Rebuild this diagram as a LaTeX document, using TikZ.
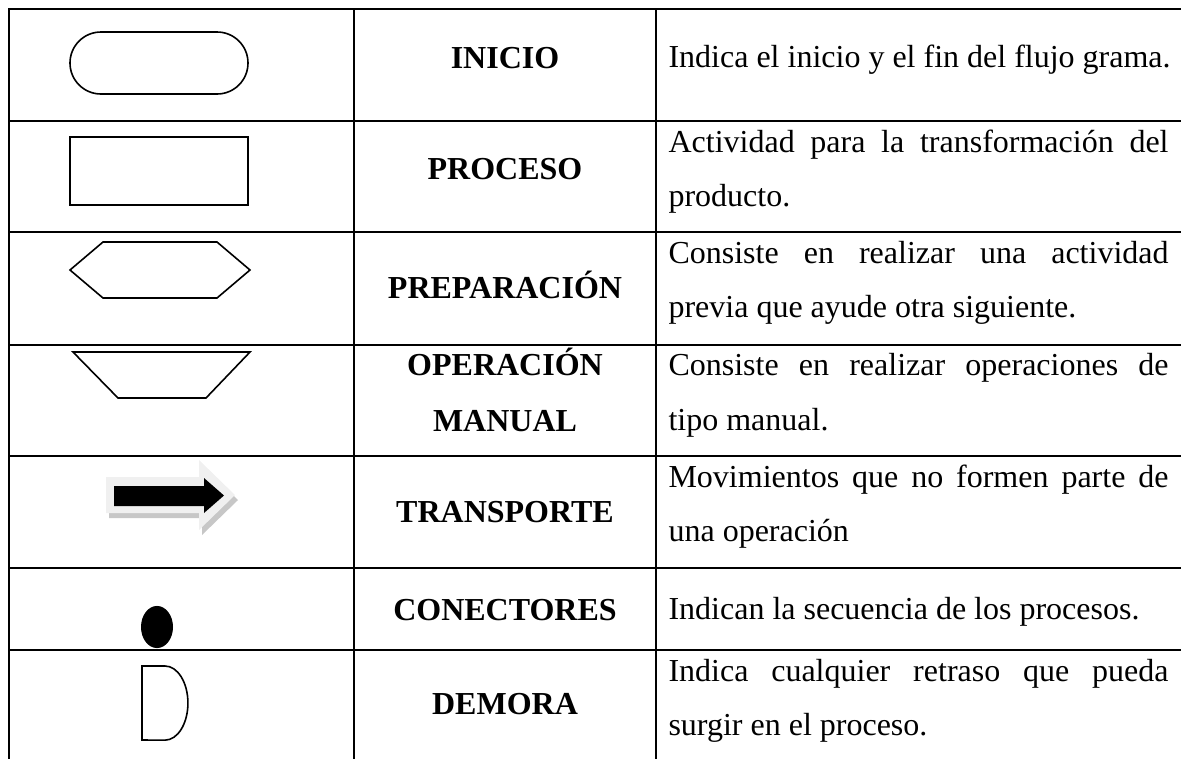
\documentclass[tikz,border=0pt]{standalone}
\usepackage{fontspec}
\setmainfont{Liberation Serif}
\newlength{\descw}
\setlength{\descw}{187.5pt}
\newcommand{\fullline}[1]{\makebox[\descw][s]{#1}}

\begin{document}
\begin{tikzpicture}[x=0.375pt,y=-0.375pt,
  font=\fontsize{12}{14}\selectfont,
  grid/.style={line width=0.75pt,line cap=rect},
  sym/.style={line width=0.6pt},
  lbl/.style={anchor=base,inner sep=0pt,font=\fontsize{12}{14}\selectfont\bfseries},
  desc/.style={anchor=base west,inner sep=0pt}]
\useasboundingbox (0,0) rectangle (1181,758);
% table
\foreach \y in {9,121,232,345,456,568,650}
  \draw[grid] (9,\y) -- (1181,\y);
\foreach \x in {9,354,656}
  \draw[grid] (\x,9) -- (\x,758);
% symbols
\draw[sym,rounded corners=11.6pt] (70,32) rectangle (248,94);
\draw[sym] (70,137) rectangle (248,205);
\draw[sym] (70,270) -- (103,242) -- (217,242) -- (250,270) -- (217,298) -- (103,298) -- cycle;
\draw[sym] (73,352) -- (250,352) -- (206,398) -- (118,398) -- cycle;
  \fill[black!22] (109,482) -- (202,482) -- (202,465) -- (238,500) -- (202,535) -- (202,518) -- (109,518) -- cycle;
  \fill[black!6] (106,477) -- (199,477) -- (199,460) -- (235,495) -- (199,530) -- (199,513) -- (106,513) -- cycle;
  \fill (114,486) -- (204,486) -- (204,478) -- (224,495.5) -- (204,513) -- (204,506) -- (114,506) -- cycle;
\fill (157,627) ellipse [x radius=6pt, y radius=7.9pt];
\draw[sym] (142,666) -- (165,666) arc[start angle=90, end angle=-90, x radius=8.6pt, y radius=13.9pt] -- (142,740) -- cycle;
% names
\node[lbl] (inicio) at (505,68) {INICIO};
\node[lbl] (proceso) at (505,179) {PROCESO};
\node[lbl] (prep) at (505,298) {PREPARACIÓN};
\node[lbl] (opman) at (505,375) {OPERACIÓN};
\node[lbl] (opman2) at (505,431) {MANUAL};
\node[lbl] (transp) at (505,522) {TRANSPORTE};
\node[lbl] (conect) at (505,620) {CONECTORES};
\node[lbl] (demora) at (505,714) {DEMORA};
% meaning
\node[desc] (d1) at (668,67) {Indica el inicio y el fin del flujo grama.};
\node[desc] (d2a) at (668,152) {\fullline{Actividad para la transformación del}};
\node[desc] (d2b) at (668,206) {producto.};
\node[desc] (d3a) at (668,263) {\fullline{Consiste en realizar una actividad}};
\node[desc] (d3b) at (668,317) {previa que ayude otra siguiente.};
\node[desc] (d4a) at (668,375) {\fullline{Consiste en realizar operaciones de}};
\node[desc] (d4b) at (668,430) {tipo manual.};
\node[desc] (d5a) at (668,487) {\fullline{Movimientos que no formen parte de}};
\node[desc] (d5b) at (668,541) {una operación};
\node[desc] (d6) at (668,619) {Indican la secuencia de los procesos.};
\node[desc] (d7a) at (668,681) {\fullline{Indica cualquier retraso que pueda}};
\node[desc] (d7b) at (668,735) {surgir en el proceso.};
\end{tikzpicture}
\end{document}
